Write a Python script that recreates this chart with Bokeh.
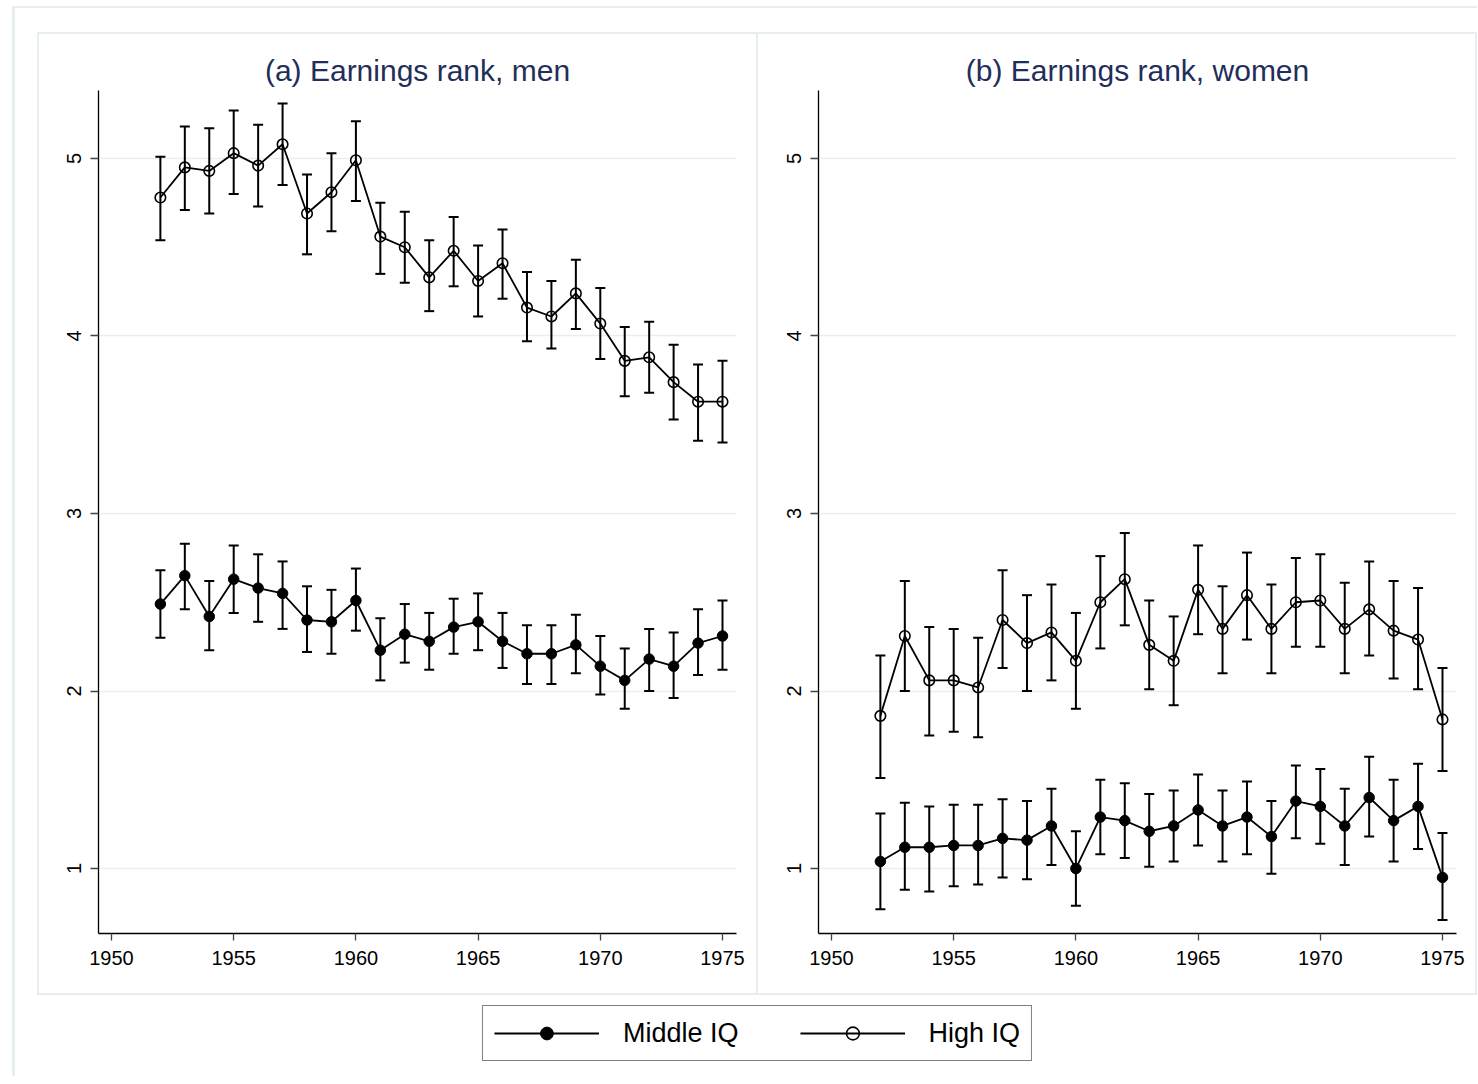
from bokeh.plotting import figure
from bokeh.layouts import row, column
from bokeh.models import FixedTicker, Range1d, Spacer, Legend, LegendItem
from bokeh.embed import file_html
from bokeh.resources import INLINE

# ---------------- data ----------------
years = [1952, 1953, 1954, 1955, 1956, 1957, 1958, 1959, 1960, 1961, 1962, 1963,
         1964, 1965, 1966, 1967, 1968, 1969, 1970, 1971, 1972, 1973, 1974, 1975]

men_high = [4.78, 4.95, 4.93, 5.03, 4.96, 5.08, 4.69, 4.81, 4.99, 4.56, 4.50, 4.33,
            4.48, 4.31, 4.41, 4.16, 4.11, 4.24, 4.07, 3.86, 3.88, 3.74, 3.63, 3.63]
men_high_hi = [5.01, 5.18, 5.17, 5.27, 5.19, 5.31, 4.91, 5.03, 5.21, 4.75, 4.70, 4.54,
               4.67, 4.51, 4.60, 4.36, 4.31, 4.43, 4.27, 4.05, 4.08, 3.95, 3.84, 3.86]
men_high_lo = [4.54, 4.71, 4.69, 4.80, 4.73, 4.85, 4.46, 4.59, 4.76, 4.35, 4.30, 4.14,
               4.28, 4.11, 4.21, 3.97, 3.93, 4.04, 3.87, 3.66, 3.68, 3.53, 3.41, 3.40]

men_mid = [2.49, 2.65, 2.42, 2.63, 2.58, 2.55, 2.40, 2.39, 2.51, 2.23, 2.32, 2.28,
           2.36, 2.39, 2.28, 2.21, 2.21, 2.26, 2.14, 2.06, 2.18, 2.14, 2.27, 2.31]
men_mid_hi = [2.68, 2.83, 2.62, 2.82, 2.77, 2.73, 2.59, 2.57, 2.69, 2.41, 2.49, 2.44,
              2.52, 2.55, 2.44, 2.37, 2.37, 2.43, 2.31, 2.24, 2.35, 2.33, 2.46, 2.51]
men_mid_lo = [2.30, 2.46, 2.23, 2.44, 2.39, 2.35, 2.22, 2.21, 2.34, 2.06, 2.16, 2.12,
              2.21, 2.23, 2.13, 2.04, 2.04, 2.10, 1.98, 1.90, 2.00, 1.96, 2.09, 2.12]

women_high = [1.86, 2.31, 2.06, 2.06, 2.02, 2.40, 2.27, 2.33, 2.17, 2.50, 2.63, 2.26,
              2.17, 2.57, 2.35, 2.54, 2.35, 2.50, 2.51, 2.35, 2.46, 2.34, 2.29, 1.84]
women_high_hi = [2.20, 2.62, 2.36, 2.35, 2.30, 2.68, 2.54, 2.60, 2.44, 2.76, 2.89, 2.51,
                 2.42, 2.82, 2.59, 2.78, 2.60, 2.75, 2.77, 2.61, 2.73, 2.62, 2.58, 2.13]
women_high_lo = [1.51, 2.00, 1.75, 1.77, 1.74, 2.13, 2.00, 2.06, 1.90, 2.24, 2.37, 2.01,
                 1.92, 2.32, 2.10, 2.29, 2.10, 2.25, 2.25, 2.10, 2.20, 2.07, 2.01, 1.55]

women_mid = [1.04, 1.12, 1.12, 1.13, 1.13, 1.17, 1.16, 1.24, 1.00, 1.29, 1.27, 1.21,
             1.24, 1.33, 1.24, 1.29, 1.18, 1.38, 1.35, 1.24, 1.40, 1.27, 1.35, 0.95]
women_mid_hi = [1.31, 1.37, 1.35, 1.36, 1.36, 1.39, 1.38, 1.45, 1.21, 1.50, 1.48, 1.42,
                1.44, 1.53, 1.44, 1.49, 1.38, 1.58, 1.56, 1.45, 1.63, 1.50, 1.59, 1.20]
women_mid_lo = [0.77, 0.88, 0.87, 0.90, 0.91, 0.95, 0.94, 1.02, 0.79, 1.08, 1.06, 1.01,
                1.04, 1.13, 1.04, 1.08, 0.97, 1.17, 1.14, 1.02, 1.18, 1.04, 1.11, 0.71]

x_ticks = [1950, 1955, 1960, 1965, 1970, 1975]
y_ticks = [1, 2, 3, 4, 5]
titles = ["(a) Earnings rank, men", "(b) Earnings rank, women"]
series_labels = ["Middle IQ", "High IQ"]

# ---------------- style ----------------
FONT = "Liberation Sans"
GRID = "#e8eff1"
FRAME = "#e6eef0"
TITLE_COLOR = "#1f2e5a"


def panel(title, mid, mid_lo, mid_hi, high, high_lo, high_hi, shadow):
    p = figure(width=720, height=963, output_backend="svg", toolbar_location=None,
               x_range=Range1d(1949.468, 1975.573), y_range=Range1d(0.634, 5.383),
               min_border_left=61, min_border_right=21, min_border_top=58,
               min_border_bottom=62, title=title)
    p.title.align = "center"
    p.title.text_font = FONT
    p.title.text_font_size = "30px"
    p.title.text_font_style = "normal"
    p.title.text_color = TITLE_COLOR
    p.title.standoff = 8

    p.outline_line_color = None
    p.border_fill_color = None
    p.background_fill_color = "white"
    p.styles = {"box-shadow": shadow}

    p.xgrid.visible = False
    p.ygrid.ticker = FixedTicker(ticks=y_ticks)
    p.ygrid.grid_line_color = GRID
    p.ygrid.grid_line_width = 1.5

    p.xaxis.ticker = FixedTicker(ticks=x_ticks)
    p.yaxis.ticker = FixedTicker(ticks=y_ticks)
    p.axis.minor_tick_line_color = None
    p.axis.major_tick_in = 0
    p.xaxis.major_tick_out = 7
    p.yaxis.major_tick_out = 8
    p.axis.axis_line_color = "black"
    p.axis.axis_line_width = 1.3
    p.axis.major_tick_line_color = "#444444"
    p.axis.major_tick_line_width = 1.3
    p.axis.major_label_text_font = FONT
    p.axis.major_label_text_font_size = "20px"
    p.axis.major_label_text_color = "black"
    p.xaxis.major_label_standoff = 10
    p.yaxis.major_label_standoff = 9
    p.yaxis.major_label_orientation = "vertical"

    for vals, lo, hi, filled in ((mid, mid_lo, mid_hi, True), (high, high_lo, high_hi, False)):
        p.segment(x0=years, y0=lo, x1=years, y1=hi, line_color="black", line_width=2.0)
        p.scatter(x=years + years, y=lo + hi, marker="dash", size=10,
                  line_color="black", line_width=2.0)
        p.line(years, vals, line_color="black", line_width=1.8)
        if filled:
            p.scatter(years, vals, marker="circle", size=10.5, fill_color="black",
                      line_color="black")
        else:
            p.scatter(years, vals, marker="circle", size=10.5, fill_alpha=0,
                      line_color="black", line_width=1.6)
    return p


p1 = panel(titles[0], men_mid, men_mid_lo, men_mid_hi, men_high, men_high_lo, men_high_hi,
           f"inset 2px 2px 0 0 {FRAME}, inset -1px -2px 0 0 {FRAME}")
p2 = panel(titles[1], women_mid, women_mid_lo, women_mid_hi, women_high, women_high_lo,
           women_high_hi, f"inset 1px 2px 0 0 {FRAME}, inset -2px -2px 0 0 {FRAME}")

# ---------------- legend ----------------
# The legend strip shows the series' styles only: its ranges keep the data out of view.
lf = figure(width=1440, height=81, output_backend="svg", toolbar_location=None,
            x_range=Range1d(0, 1), y_range=Range1d(0, 1),
            x_axis_location=None, y_axis_location=None,
            min_border_left=0, min_border_right=0, min_border_top=0, min_border_bottom=0)
lf.grid.visible = False
lf.outline_line_color = None
lf.border_fill_color = None
lf.background_fill_color = None

r1l = lf.line(years, men_mid, line_color="black", line_width=2)
r1s = lf.scatter(years, men_mid, marker="circle", fill_color="black", line_color="black")
r2l = lf.line(years, men_high, line_color="black", line_width=2)
r2s = lf.scatter(years, men_high, marker="circle", fill_alpha=0, line_color="black",
                 line_width=1.6)

legend = Legend(items=[LegendItem(label=series_labels[0], renderers=[r1l, r1s]),
                       LegendItem(label=series_labels[1], renderers=[r2l, r2s])],
                orientation="horizontal", location="top_center", margin=10,
                glyph_width=105, glyph_height=32, label_standoff=24, spacing=61,
                padding=11, label_text_font=FONT, label_text_font_size="27px",
                label_text_color="black", border_line_color="black",
                border_line_width=1.2, background_fill_color="white",
                background_fill_alpha=1.0)
lf.add_layout(legend)

# ---------------- layout ----------------
root = column(
    Spacer(width=1477, height=6),
    row(Spacer(width=12, height=2),
        Spacer(width=1465, height=2, styles={"background-color": FRAME})),
    row(
        Spacer(width=12, height=1068),
        Spacer(width=3, height=1068, styles={"background-color": FRAME}),
        Spacer(width=22, height=1068),
        column(Spacer(width=1440, height=24), row(p1, p2), lf),
    ),
)

open("out.html", "w").write(file_html(root, INLINE))
